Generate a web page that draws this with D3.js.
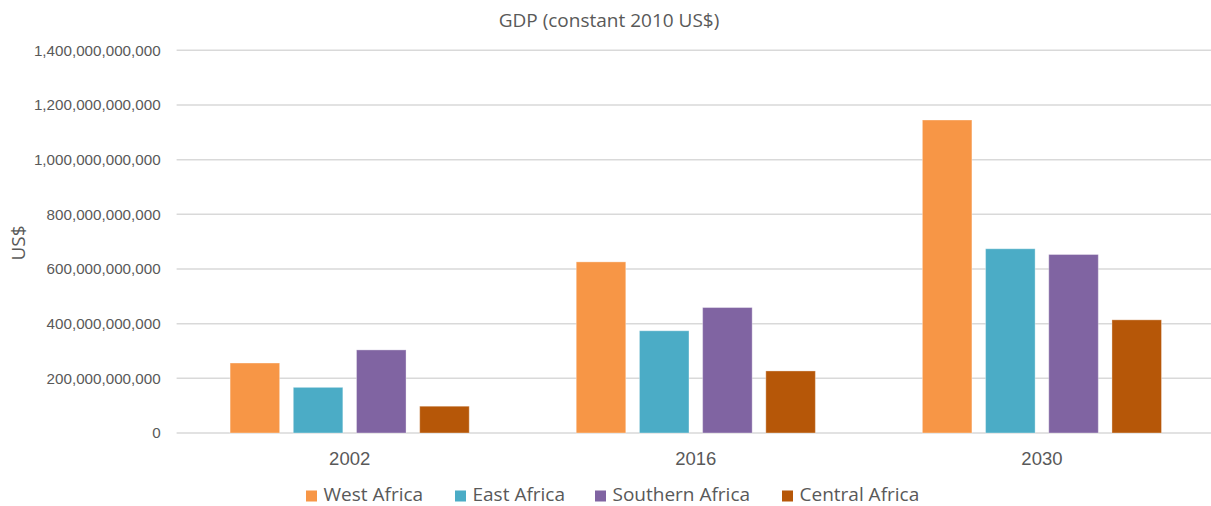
<!DOCTYPE html>
<html lang="en">
<head>
    <meta charset="UTF-8">
    <title>GDP (constant 2010 US$)</title>
    <script src="https://d3js.org/d3.v7.min.js"></script>
    <style>
        body { margin: 0; background: #fff; }
        svg { display: block; font-family: "Open Sans", sans-serif; }
        .tick text { fill: #595959; }
        .grid line { stroke: #d9d9d9; stroke-width: 1.5; }
    </style>
</head>
<body>
    <svg width="1211" height="506"></svg>
    <script>
        // data
        const years = ["2002", "2016", "2030"];
        const regions = ["West Africa", "East Africa", "Southern Africa", "Central Africa"];
        const westAfrica = [256e9, 626e9, 1145e9];
        const eastAfrica = [167e9, 374e9, 674e9];
        const southernAfrica = [304e9, 459e9, 653e9];
        const centralAfrica = [98e9, 227e9, 414e9];
        const yTicks = [0, 200e9, 400e9, 600e9, 800e9, 1000e9, 1200e9, 1400e9];
        const colors = ["#f79646", "#4bacc6", "#8064a2", "#b65708"];

        const seriesValues = [westAfrica, eastAfrica, southernAfrica, centralAfrica];
        const table = years.map((y, i) => ({
            year: y,
            values: regions.map((r, j) => ({ region: r, value: seriesValues[j][i] }))
        }));

        const svg = d3.select("svg");
        const plot = { left: 176.6, right: 1215, top: 50.3, bottom: 433 };

        const x0 = d3.scaleBand()
            .domain(years)
            .range([plot.left, plot.right])
            .padding(0);

        const x1 = d3.scaleBand()
            .domain(regions)
            .range([53.5, x0.bandwidth() - 53.5])
            .paddingInner(0.216)
            .paddingOuter(0);

        const y = d3.scaleLinear()
            .domain([0, 1400e9])
            .range([plot.bottom, plot.top]);

        const color = d3.scaleOrdinal().domain(regions).range(colors);

        // gridlines
        svg.append("g")
            .attr("class", "grid")
            .selectAll("line")
            .data(yTicks)
            .join("line")
            .attr("x1", plot.left)
            .attr("x2", plot.right)
            .attr("y1", d => y(d))
            .attr("y2", d => y(d));

        // y axis labels
        const yAxis = svg.append("g")
            .attr("transform", `translate(${plot.left},0)`)
            .call(d3.axisLeft(y)
                .tickValues(yTicks)
                .tickSize(0)
                .tickPadding(16)
                .tickFormat(d3.format(",.0f")));
        yAxis.select(".domain").remove();
        yAxis.selectAll("text").style("font-size", "15.2px");

        // bars
        const groups = svg.append("g")
            .selectAll("g")
            .data(table)
            .join("g")
            .attr("transform", d => `translate(${x0(d.year)},0)`);

        groups.selectAll("rect")
            .data(d => d.values)
            .join("rect")
            .attr("x", d => x1(d.region))
            .attr("y", d => y(d.value))
            .attr("width", x1.bandwidth())
            .attr("height", d => y(0) - y(d.value))
            .attr("fill", d => color(d.region))
            .attr("stroke", "#fff")
            .attr("stroke-opacity", 0.35)
            .attr("stroke-width", 1);

        // x axis labels
        const xAxis = svg.append("g")
            .attr("transform", `translate(0,${plot.bottom})`)
            .call(d3.axisBottom(x0).tickSize(0).tickPadding(19));
        xAxis.select(".domain").remove();
        xAxis.selectAll("text").style("font-size", "18.5px");

        // title
        svg.append("text")
            .attr("x", 609)
            .attr("y", 27)
            .attr("text-anchor", "middle")
            .attr("fill", "#595959")
            .style("font-size", "19px")
            .text("GDP (constant 2010 US$)");

        // y axis title
        svg.append("text")
            .attr("transform", "translate(25,243) rotate(-90)")
            .attr("text-anchor", "middle")
            .attr("fill", "#595959")
            .style("font-size", "19px")
            .text("US$");

        // legend
        const legendX = [306, 455, 595, 782];
        const legend = svg.append("g")
            .selectAll("g")
            .data(regions)
            .join("g")
            .attr("transform", (d, i) => `translate(${legendX[i]},490.5)`);

        legend.append("rect")
            .attr("width", 11)
            .attr("height", 11)
            .attr("fill", d => color(d));

        legend.append("text")
            .attr("x", 17.5)
            .attr("y", 10)
            .attr("fill", "#595959")
            .style("font-size", "19px")
            .text(d => d);
    </script>
</body>
</html>
